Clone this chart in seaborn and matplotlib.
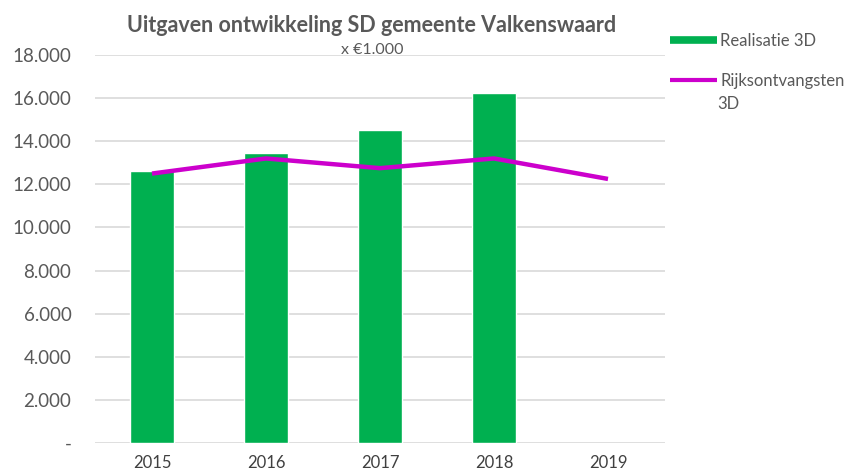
import matplotlib
matplotlib.use("Agg")
import matplotlib.pyplot as plt
import seaborn as sns
import pandas as pd
import numpy as np
from matplotlib.lines import Line2D
from matplotlib.ticker import FuncFormatter

years = ["2015", "2016", "2017", "2018", "2019"]
realisatie = [12600, 13450, 14500, 16250, np.nan]
rijksontvangsten = [12500, 13200, 12750, 13200, 12250]
yticks = [0, 2000, 4000, 6000, 8000, 10000, 12000, 14000, 16000, 18000]

GREEN = "#00B050"
MAGENTA = "#CC00CC"
GRAY = "#595959"

sns.set_theme(style="white")
plt.rcParams["font.family"] = ["Lato", "DejaVu Sans"]

df = pd.DataFrame({"jaar": years, "Realisatie 3D": realisatie,
                   "Rijksontvangsten 3D": rijksontvangsten})

fig = plt.figure(figsize=(8.47, 4.75), dpi=100)
ax = fig.add_axes([95/847, 1-443/475, 570/847, (443-55)/475])

sns.barplot(data=df, x="jaar", y="Realisatie 3D", order=years, color=GREEN,
            saturation=1, width=0.39, ax=ax, zorder=2)
ax.plot(np.arange(len(years)), df["Rijksontvangsten 3D"].values, color=MAGENTA,
        lw=3.2, solid_joinstyle="round", solid_capstyle="butt", zorder=3)

ax.set_xlim(-0.5, 4.5)
ax.set_ylim(0, 18000)
ax.set_yticks(yticks)
ax.yaxis.set_major_formatter(FuncFormatter(lambda v, p: "-" if v == 0 else f"{int(v):,}".replace(",", ".")))
ax.grid(axis="y", color="#D9D9D9", lw=1.2, zorder=0)
ax.set_axisbelow(True)
for s in ax.spines.values():
    s.set_visible(False)
ax.set_xlabel("")
ax.set_ylabel("")
ax.tick_params(axis="y", length=0, pad=17, labelsize=13.5, labelcolor=GRAY)
ax.tick_params(axis="x", length=0, pad=9, labelsize=12, labelcolor="#404040")

fig.text(372/847, 1-25/475, "Uitgaven ontwikkeling SD gemeente Valkenswaard",
         ha="center", va="center", fontsize=15.5, fontweight="bold", color=GRAY)
fig.text(372/847, 1-50/475, "x €1.000", ha="center", va="center",
         fontsize=11.5, color=GRAY)

handles = [Line2D([], [], color=GREEN, lw=5.5, solid_capstyle="butt"),
           Line2D([], [], color=MAGENTA, lw=3, solid_capstyle="butt")]
fig.legend(handles, ["Realisatie 3D", "Rijksontvangsten"],
           loc="upper left", bbox_to_anchor=(655/847, 1-18/475), frameon=False,
           fontsize=12, handlelength=2.8, handletextpad=0.2, labelspacing=1.45,
           labelcolor=GRAY)
fig.text(717/847, 1-104/475, "3D", ha="left", va="center", fontsize=12, color=GRAY)

fig.savefig("out.png", dpi=100)
